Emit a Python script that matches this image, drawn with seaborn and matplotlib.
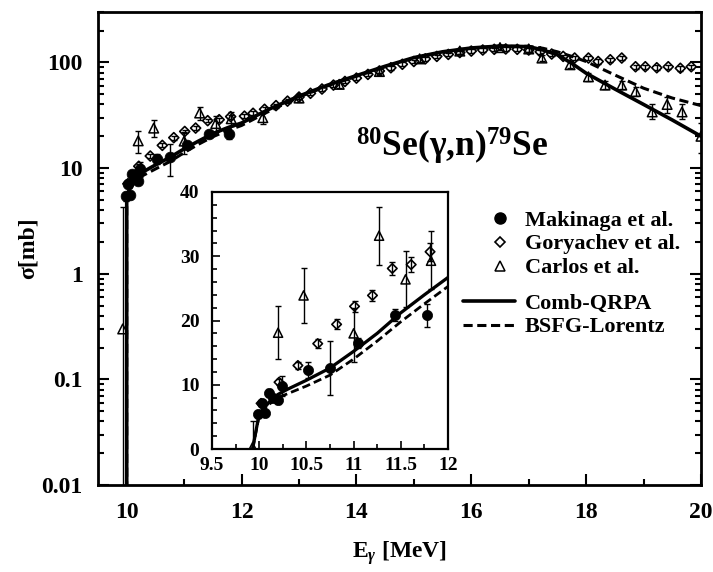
import numpy as np
import matplotlib
matplotlib.use("Agg")
import matplotlib.pyplot as plt
import seaborn as sns
from matplotlib.lines import Line2D
from matplotlib.ticker import (FixedLocator, LogLocator, MultipleLocator,
                               NullFormatter, FuncFormatter)

# ---- 80Se(gamma,n)79Se photoneutron cross section ----

# Comb-QRPA calculation (MeV, mb)
qrpa_energy = [9.93, 10.0, 10.1, 10.2, 10.3, 10.5, 10.75, 11.0, 11.25, 11.5,
               11.75, 12.0, 12.5, 13.0, 13.5, 14.0, 14.5, 15.0, 15.5, 16.0,
               16.5, 17.0, 17.25, 17.5, 17.75, 18.0, 18.5, 19.0, 19.5, 20.0]
qrpa_sigma = [0.0, 5.5, 7.2, 8.5, 9.3, 10.7, 12.6, 15.2, 18.0, 21.2,
              24.0, 26.7, 36.5, 48.0, 61.0, 75.0, 92.0, 111.0, 126.0, 137.0,
              143.0, 141.0, 131.0, 118.0, 98.0, 79.0, 56.0, 40.0, 28.5, 20.0]

# BSFG-Lorentz calculation (MeV, mb)
bsfg_energy = [9.93, 10.0, 10.1, 10.2, 10.3, 10.5, 10.75, 11.0, 11.25, 11.5,
               11.75, 12.0, 12.5, 13.0, 13.5, 14.0, 14.5, 15.0, 15.5, 16.0,
               16.5, 17.0, 17.25, 17.5, 17.75, 18.0, 18.5, 19.0, 19.5, 20.0]
bsfg_sigma = [0.0, 5.2, 6.9, 8.0, 8.6, 9.8, 11.5, 14.0, 16.8, 19.8,
              22.6, 25.3, 35.0, 47.0, 60.0, 74.0, 91.0, 110.0, 125.0, 136.0,
              142.0, 142.0, 136.0, 126.0, 114.0, 102.0, 76.0, 57.0, 46.0, 39.0]

# Makinaga et al.
mak_energy = [9.99, 10.03, 10.06, 10.10, 10.15, 10.20, 10.24, 10.52, 10.75,
              11.05, 11.44, 11.78]
mak_sigma = [5.4, 7.1, 5.6, 8.7, 8.0, 7.6, 9.8, 12.3, 12.6, 16.5, 20.9, 20.8]
mak_err = [0.5, 0.6, 0.5, 0.6, 0.6, 0.6, 1.5, 1.3, 4.2, 0.8, 0.9, 1.8]

# Goryachev et al.
gor_energy = [10.02, 10.21, 10.41, 10.62, 10.82, 11.01, 11.20, 11.41, 11.61, 11.81,
              12.05, 12.2, 12.4, 12.6, 12.8, 13.0, 13.2, 13.4, 13.6, 13.8,
              14.0, 14.2, 14.4, 14.6, 14.8, 15.0, 15.2, 15.4, 15.6, 15.8,
              16.0, 16.2, 16.4, 16.6, 16.8, 17.0, 17.2, 17.4, 17.6, 17.8,
              18.04, 18.21, 18.42, 18.62, 18.86, 19.03, 19.23, 19.43, 19.64, 19.83]
gor_sigma = [7.1, 10.4, 13.0, 16.4, 19.4, 22.2, 23.9, 28.1, 28.7, 30.7,
             31.0, 33.0, 36.0, 39.0, 43.0, 47.0, 51.0, 56.0, 61.0, 66.0,
             71.0, 77.0, 83.0, 89.0, 96.0, 102.0, 108.0, 114.0, 119.0, 124.0,
             128.0, 131.0, 133.0, 134.0, 133.0, 131.0, 126.0, 120.0, 114.0, 110.0,
             110.0, 102.0, 106.0, 110.0, 91.0, 91.0, 89.0, 91.0, 88.0, 91.0]
gor_err = [0.4, 0.5, 0.6, 0.7, 0.8, 0.9, 0.9, 1.0, 1.2, 1.4,
           1.4, 1.5, 1.6, 1.7, 1.9, 2.0, 2.2, 2.4, 2.6, 2.8,
           3.0, 3.2, 3.4, 3.6, 3.8, 4.0, 4.2, 4.4, 4.6, 4.8,
           5.0, 5.2, 5.3, 5.4, 5.4, 5.3, 5.2, 5.0, 4.8, 4.6,
           5.0, 5.0, 5.0, 5.0, 4.5, 4.5, 4.5, 4.5, 4.5, 4.5]

# Carlos et al.
car_energy = [9.93, 10.20, 10.47, 11.00, 11.27, 11.55, 11.82, 12.37, 13.0, 13.7,
              14.4, 15.1, 15.8, 16.5, 17.0, 17.23, 17.72, 18.04, 18.33, 18.62,
              18.86, 19.15, 19.41, 19.67, 20.0]
car_sigma = [0.3, 18.1, 23.9, 18.0, 33.2, 26.4, 29.3, 30.0, 46.0, 62.0,
             82.0, 108.0, 128.0, 138.0, 134.0, 110.0, 95.0, 73.0, 61.0, 61.0,
             53.0, 34.0, 40.0, 34.0, 20.0]
car_err_lo = [0.3, 4.1, 4.3, 4.5, 4.5, 4.3, 4.4, 4.0, 4.0, 5.0,
              6.0, 7.0, 8.0, 8.0, 8.0, 7.0, 7.0, 6.0, 5.0, 5.0,
              5.0, 5.0, 6.5, 5.0, 6.0]
car_err_hi = [4.0, 4.1, 4.3, 4.0, 4.4, 4.4, 4.6, 4.0, 4.0, 5.0,
              6.0, 7.0, 8.0, 8.0, 8.0, 7.0, 7.0, 6.0, 5.0, 5.0,
              5.0, 6.5, 7.5, 6.0, 6.5]

main_yticks = [0.01, 0.1, 1, 10, 100]
main_xticks = [10, 12, 14, 16, 18, 20]
inset_xticks = [9.5, 10, 10.5, 11, 11.5, 12]
inset_yticks = [0, 10, 20, 30, 40]

sns.set_theme(style="ticks")
plt.rcParams.update({
    "font.family": ["Liberation Serif", "DejaVu Serif"],
    "font.weight": "bold",
    "axes.labelweight": "bold",
    "mathtext.fontset": "custom",
    "mathtext.rm": "Liberation Serif:bold",
    "mathtext.it": "Liberation Serif:italic",
    "mathtext.bf": "Liberation Serif:bold",
    "axes.edgecolor": "black",
    "axes.labelcolor": "black",
    "text.color": "black",
    "xtick.color": "black",
    "ytick.color": "black",
})

W, H = 713, 572
fig = plt.figure(figsize=(W / 100, H / 100), dpi=100)
fig.patch.set_facecolor("white")


def px_box(left, top, right, bottom):
    return [left / W, 1 - bottom / H, (right - left) / W, (bottom - top) / H]


def draw_data(ax, scale=1.0):
    ebar = dict(fmt="none", ecolor="black", elinewidth=1.0, capsize=2.2 * scale,
                capthick=1.0, zorder=2)
    ax.errorbar(gor_energy, gor_sigma, yerr=gor_err, **ebar)
    ax.errorbar(car_energy, car_sigma, yerr=[car_err_lo, car_err_hi], **ebar)
    ax.errorbar(mak_energy, mak_sigma, yerr=mak_err, **ebar)
    sns.scatterplot(x=gor_energy, y=gor_sigma, ax=ax, marker="D", s=26 * scale,
                    facecolors="none", edgecolors="black", linewidths=1.2, zorder=3)
    sns.scatterplot(x=car_energy, y=car_sigma, ax=ax, marker="^", s=48 * scale,
                    facecolors="none", edgecolors="black", linewidths=1.1, zorder=3)
    sns.scatterplot(x=mak_energy, y=mak_sigma, ax=ax, marker="o", s=60 * scale,
                    color="black", edgecolor="black", linewidth=0.5, zorder=4)
    sns.lineplot(x=qrpa_energy, y=qrpa_sigma, ax=ax, color="black", lw=2.6 * scale,
                 sort=False, estimator=None, zorder=5)
    sns.lineplot(x=bsfg_energy, y=bsfg_sigma, ax=ax, color="black", lw=2.2 * scale,
                 sort=False, estimator=None, zorder=5, dashes=False,
                 linestyle=(0, (3, 1.5)))


# ---------------- main panel ----------------
ax = fig.add_axes(px_box(98, 12, 701, 485))
ax.set_yscale("log", nonpositive="clip")
draw_data(ax)
ax.set_xlim(9.5, 20)
ax.set_ylim(0.01, 300)
ax.xaxis.set_major_locator(FixedLocator(main_xticks))
ax.xaxis.set_minor_locator(MultipleLocator(1))
ax.yaxis.set_major_locator(FixedLocator(main_yticks))
ax.yaxis.set_minor_locator(LogLocator(base=10, subs=np.arange(2, 10)))
ax.yaxis.set_minor_formatter(NullFormatter())
ax.yaxis.set_major_formatter(FuncFormatter(lambda v, p: f"{v:g}"))
ax.xaxis.set_major_formatter(FuncFormatter(lambda v, p: f"{v:g}"))
ax.tick_params(which="both", direction="in", right=True, width=1.5, labelsize=17)
ax.tick_params(which="major", length=8)
ax.tick_params(which="minor", length=4.5)
ax.tick_params(axis="y", pad=11)
ax.tick_params(axis="x", pad=12)
for s in ax.spines.values():
    s.set_linewidth(2.0)
    s.set_visible(True)
ax.set_xlabel(r"E$_{\gamma}$ [MeV]", fontsize=17, labelpad=12)
ax.set_ylabel("σ[mb]", fontsize=17, labelpad=2)

fig.text(356 / W, 1 - 157 / H, r"$^{80}$Se(γ,n)$^{79}$Se", fontsize=25.5,
         fontweight="bold", ha="left", va="baseline")

# ---------------- inset ----------------
ins = fig.add_axes(px_box(212, 192, 448, 449))
draw_data(ins, scale=0.9)
ins.set_xlim(9.5, 12)
ins.set_ylim(0, 40)
ins.xaxis.set_major_locator(FixedLocator(inset_xticks))
ins.xaxis.set_minor_locator(MultipleLocator(0.25))
ins.yaxis.set_major_locator(FixedLocator(inset_yticks))
ins.yaxis.set_minor_locator(MultipleLocator(2))
ins.xaxis.set_major_formatter(FuncFormatter(lambda v, p: f"{v:g}"))
ins.yaxis.set_major_formatter(FuncFormatter(lambda v, p: f"{v:g}"))
ins.tick_params(which="both", direction="in", width=1.2, labelsize=14)
ins.tick_params(which="major", length=6)
ins.tick_params(which="minor", length=3.5)
ins.tick_params(axis="x", pad=6)
ins.tick_params(axis="y", pad=9)
for s in ins.spines.values():
    s.set_linewidth(1.6)
    s.set_visible(True)
ins.set_xlabel("")
ins.set_ylabel("")

# ---------------- legends ----------------
fs = 16
marker_handles = [
    Line2D([], [], ls="none", marker="o", color="black", markersize=8),
    Line2D([], [], ls="none", marker="D", mfc="none", mec="black", markersize=5.5, mew=1.2),
    Line2D([], [], ls="none", marker="^", mfc="none", mec="black", markersize=6.5, mew=1.1),
]
line_handles = [
    Line2D([], [], color="black", lw=2.6),
    Line2D([], [], color="black", lw=2.2, linestyle=(0, (3, 1.5))),
]
leg_kw = dict(frameon=False, borderpad=0, borderaxespad=0, labelspacing=0.15,
              prop={"size": fs, "weight": "bold"}, loc="upper left")
fig.legend(marker_handles, ["Makinaga et al.", "Goryachev et al.", "Carlos et al."],
           bbox_to_anchor=(489 / W, 1 - 210 / H), handlelength=1.0,
           handletextpad=0.62, **leg_kw)
fig.legend(line_handles, ["Comb-QRPA", "BSFG-Lorentz"],
           bbox_to_anchor=(463 / W, 1 - 293 / H), handlelength=2.34,
           handletextpad=0.45, **leg_kw)

fig.savefig("out.png", dpi=100, facecolor="white")
